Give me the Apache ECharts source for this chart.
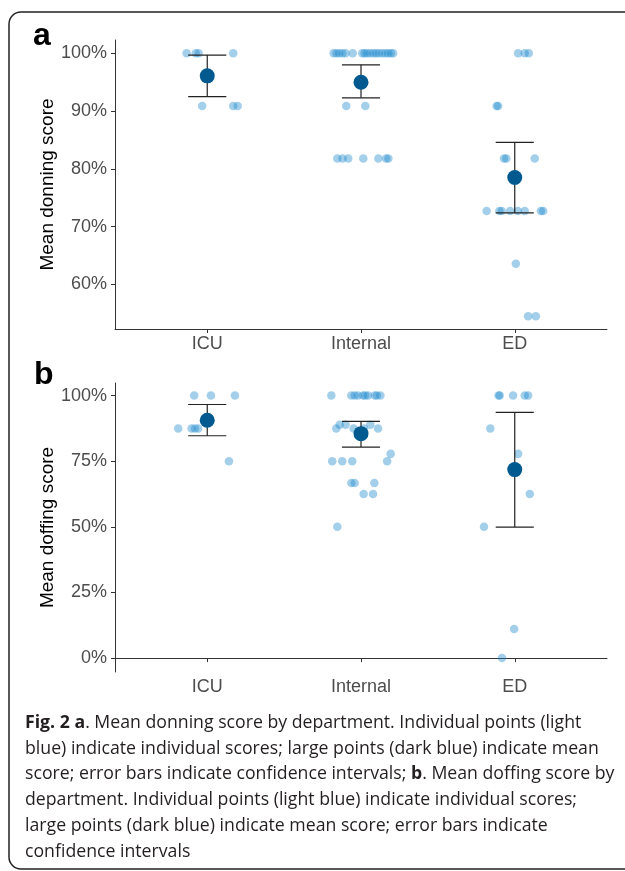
<!DOCTYPE html>
<html>
<head>
<meta charset="utf-8">
<script src="https://cdn.jsdelivr.net/npm/echarts@6/dist/echarts.min.js"></script>
<style>
html,body{margin:0;padding:0;background:#fff;}
#chart{width:625px;height:871px;}
</style>
</head>
<body>
<div id="chart"></div>
<script>
// ---------- data ----------
const categories = ['ICU', 'Internal', 'ED'];
const yTicksDonning = [60, 70, 80, 90, 100];
const yTicksDoffing = [0, 25, 50, 75, 100];

// Panel a: donning (individual scores and horizontal jitter offsets)
const donningICU = [100, 100, 100, 100, 90.9, 90.9, 90.9];
const donningICUJitter = [-0.134, -0.075, -0.056, 0.169, -0.033, 0.169, 0.198];
const donningInternal = [100, 100, 100, 100, 100, 100, 100, 100, 100, 100, 100, 100, 100, 100, 100, 100, 100, 100, 90.9, 90.9, 81.8, 81.8, 81.8, 81.8, 81.8, 81.8, 81.8];
const donningInternalJitter = [-0.178, -0.16, -0.142, -0.121, -0.101, -0.054, 0.008, 0.023, 0.039, 0.059, 0.08, 0.098, 0.116, 0.137, 0.158, 0.176, 0.194, 0.209, -0.096, 0.028, -0.154, -0.12, -0.083, 0.015, 0.113, 0.163, 0.178];
const donningED = [100, 100, 100, 90.9, 90.9, 81.8, 81.8, 81.8, 72.7, 72.7, 72.7, 72.7, 72.7, 72.7, 72.7, 72.7, 63.6, 54.5, 54.5];
const donningEDJitter = [0.022, 0.065, 0.091, -0.118, -0.108, -0.07, -0.055, 0.13, -0.183, -0.1, -0.085, -0.03, 0.02, 0.065, 0.17, 0.185, 0.007, 0.087, 0.137];
const donningMean = [96.1, 95.0, 78.5];
const donningLower = [92.5, 92.3, 72.4];
const donningUpper = [99.7, 98.0, 84.6];

// Panel b: doffing
const doffingICU = [100, 100, 100, 87.5, 87.5, 87.5, 87.5, 75];
const doffingICUJitter = [-0.085, 0.024, 0.18, -0.189, -0.102, -0.08, -0.059, 0.141];
const doffingInternal = [100, 100, 100, 100, 100, 100, 100, 100, 100, 100, 87.5, 88.9, 88.9, 87.5, 87.5, 88.9, 87.5, 77.8, 75, 75, 75, 75, 66.7, 66.7, 66.7, 62.5, 62.5, 50];
const doffingInternalJitter = [-0.193, -0.063, -0.041, -0.02, 0.013, 0.028, 0.046, 0.089, 0.104, 0.126, -0.161, -0.139, -0.1, -0.048, 0.02, 0.061, 0.111, 0.193, -0.187, -0.122, -0.057, 0.17, -0.063, -0.041, 0.087, 0.017, 0.078, -0.154];
const doffingED = [100, 100, 100, 100, 100, 87.5, 77.8, 62.5, 50, 11.1, 0];
const doffingEDJitter = [-0.105, -0.098, -0.011, 0.065, 0.087, -0.159, 0.022, 0.098, -0.2, -0.004, -0.083];
const doffingMean = [90.6, 85.5, 71.8];
const doffingLower = [84.7, 80.4, 49.9];
const doffingUpper = [96.6, 90.2, 93.6];

const captionLines = [
  '{b|Fig. 2 a}. Mean donning score by department. Individual points (light',
  'blue) indicate individual scores; large points (dark blue) indicate mean',
  'score; error bars indicate confidence intervals; {b|b}. Mean doffing score by',
  'department. Individual points (light blue) indicate individual scores;',
  'large points (dark blue) indicate mean score; error bars indicate',
  'confidence intervals'
];

// ---------- build ----------
function jittered(groups) {
  const out = [];
  groups.forEach(function (g, i) {
    g[0].forEach(function (v, k) { out.push([i + 1 + g[1][k], v]); });
  });
  return out;
}
const donningPoints = jittered([[donningICU, donningICUJitter], [donningInternal, donningInternalJitter], [donningED, donningEDJitter]]);
const doffingPoints = jittered([[doffingICU, doffingICUJitter], [doffingInternal, doffingInternalJitter], [doffingED, doffingEDJitter]]);
const donningMeans = donningMean.map(function (v, i) { return [i + 1, v]; });
const doffingMeans = doffingMean.map(function (v, i) { return [i + 1, v]; });
const donningBars = donningLower.map(function (v, i) { return [i + 1, v, donningUpper[i]]; });
const doffingBars = doffingLower.map(function (v, i) { return [i + 1, v, doffingUpper[i]]; });

const AX = '#333333';
const LBL = '#4d4d4d';
const FONT = 'Liberation Sans, Arial, sans-serif';
const CAP_FONT = 'Open Sans';
const CAP_SIZE = 17.7;

function xAxis(gi) {
  return {
    type: 'value', gridIndex: gi, min: 0.4, max: 3.6,
    axisLine: { show: true, lineStyle: { color: AX, width: 1 } },
    axisTick: { show: true, length: 4, lineStyle: { color: AX }, customValues: [1, 2, 3] },
    axisLabel: { customValues: [1, 2, 3], margin: 6, color: LBL, fontSize: 18, fontFamily: FONT,
      formatter: function (v) { return categories[Math.round(v) - 1]; } },
    splitLine: { show: false }
  };
}
function yAxis(gi, min, max, ticks, name) {
  return {
    type: 'value', gridIndex: gi, min: min, max: max,
    name: name, nameLocation: 'middle', nameGap: 58, nameMoveOverlap: false,
    nameTextStyle: { color: '#000', fontSize: 19, fontFamily: FONT },
    axisLine: { show: true, lineStyle: { color: AX, width: 1 } },
    axisTick: { show: true, length: 4, lineStyle: { color: AX }, customValues: ticks },
    axisLabel: { customValues: ticks, margin: 8, color: LBL, fontSize: 18, fontFamily: FONT,
      formatter: function (v) { return v + '%'; } },
    splitLine: { show: false }
  };
}

function errorBarSeries(gi, data) {
  return {
    type: 'custom', xAxisIndex: gi, yAxisIndex: gi, data: data, z: 3,
    renderItem: function (params, api) {
      const x = api.value(0);
      const lo = api.coord([x, api.value(1)]);
      const hi = api.coord([x, api.value(2)]);
      const hw = api.size([0.124, 0])[0];
      const st = { stroke: '#222', lineWidth: 1.2 };
      return {
        type: 'group',
        children: [
          { type: 'line', shape: { x1: lo[0], y1: lo[1], x2: hi[0], y2: hi[1] }, style: st },
          { type: 'line', shape: { x1: lo[0] - hw, y1: lo[1], x2: lo[0] + hw, y2: lo[1] }, style: st },
          { type: 'line', shape: { x1: hi[0] - hw, y1: hi[1], x2: hi[0] + hw, y2: hi[1] }, style: st }
        ]
      };
    }
  };
}
function pointSeries(gi, data) {
  return { type: 'scatter', xAxisIndex: gi, yAxisIndex: gi, data: data, symbolSize: 8.5, z: 2,
    itemStyle: { color: 'rgba(25,135,205,0.5)', borderWidth: 0 }, silent: true };
}
function meanSeries(gi, data) {
  return { type: 'scatter', xAxisIndex: gi, yAxisIndex: gi, data: data, symbolSize: 15, z: 4,
    itemStyle: { color: '#005a8f', opacity: 1, borderWidth: 0 }, silent: true };
}

const graphics = [
  { type: 'rect', shape: { x: 9, y: 12, width: 700, height: 857, r: 12 },
    style: { fill: 'none', stroke: '#222', lineWidth: 1.5 }, z: 10 },
  { type: 'text', x: 33, y: 20, style: { text: 'a', font: 'bold 32px ' + FONT, fill: '#000', verticalAlign: 'top' }, z: 10 },
  { type: 'text', x: 34, y: 359, style: { text: 'b', font: 'bold 32px ' + FONT, fill: '#000', verticalAlign: 'top' }, z: 10 }
];
captionLines.forEach(function (t, i) {
  graphics.push({
    type: 'text', x: 25, y: 714 + i * 25.7, z: 10,
    style: {
      text: t, fontFamily: CAP_FONT, fontSize: CAP_SIZE, fill: '#231f20', verticalAlign: 'top',
      rich: { b: { fontFamily: CAP_FONT, fontSize: CAP_SIZE, fontWeight: 'bold', fill: '#231f20' } }
    }
  });
});

const chart = echarts.init(document.getElementById('chart'), null, { renderer: 'canvas' });
chart.setOption({
  animation: false,
  backgroundColor: '#fff',
  grid: [
    { left: 115, top: 40, width: 492, height: 289 },
    { left: 115, top: 383, width: 492, height: 289 }
  ],
  xAxis: [xAxis(0), xAxis(1)],
  yAxis: [
    yAxis(0, 52.3, 102.3, yTicksDonning, 'Mean donning score'),
    yAxis(1, -5.3, 104.8, yTicksDoffing, 'Mean doffing score')
  ],
  series: [
    pointSeries(0, donningPoints), errorBarSeries(0, donningBars), meanSeries(0, donningMeans),
    pointSeries(1, doffingPoints), errorBarSeries(1, doffingBars), meanSeries(1, doffingMeans)
  ],
  graphic: graphics
});
</script>
</body>
</html>
